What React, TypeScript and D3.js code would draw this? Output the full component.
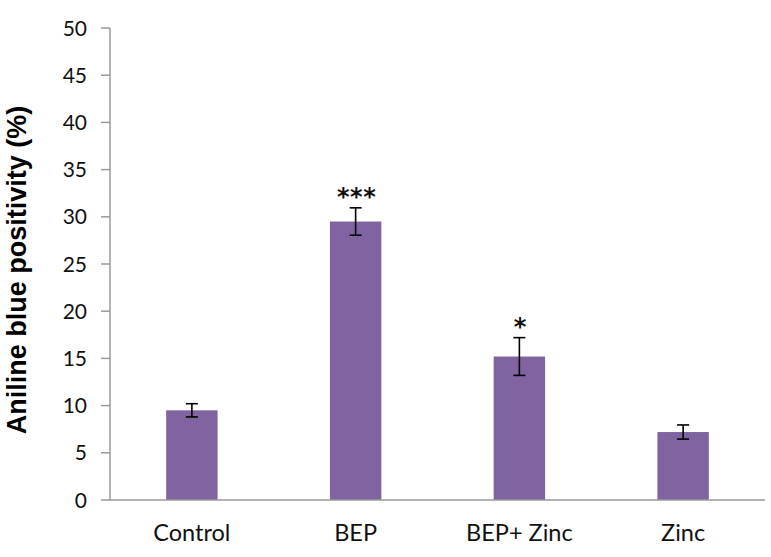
import React from "react";
import * as d3 from "d3";

const categories = ["Control", "BEP", "BEP+ Zinc", "Zinc"];
const values = [9.5, 29.5, 15.2, 7.2];
const errors = [0.7, 1.45, 2.0, 0.75];
const significance = ["", "***", "*", ""];
const yTicks = [0, 5, 10, 15, 20, 25, 30, 35, 40, 45, 50];
const yTitle = "Aniline blue positivity (%)";

export default function App() {
  const width = 771;
  const height = 557;
  const x0 = 110;
  const x1 = 765;
  const yScale = d3.scaleLinear().domain([0, 50]).range([500, 28]);
  const xScale = d3
    .scaleBand<string>()
    .domain(categories)
    .range([x0, x1])
    .paddingInner(0.686)
    .paddingOuter(0.343);
  const font = "Lato, 'Open Sans', sans-serif";
  const axisColor = "#9a9a9a";
  return (
    <svg
      width={width}
      height={height}
      style={{ position: "absolute", left: 0, top: 0, background: "#fff" }}
      fontFamily={font}
    >
      {/* y axis */}
      <line x1={x0} x2={x0} y1={yScale(50)} y2={yScale(0)} stroke={axisColor} strokeWidth={1.5} />
      {yTicks.map((t) => (
        <g key={t}>
          <line x1={x0 - 9} x2={x0} y1={yScale(t)} y2={yScale(t)} stroke={axisColor} strokeWidth={1.5} />
          <text x={87} y={yScale(t)} dy="0.36em" textAnchor="end" fontSize={21} fill="#111">
            {t}
          </text>
        </g>
      ))}
      {/* bars */}
      {categories.map((c, i) => {
        const bx = xScale(c)!;
        const bw = xScale.bandwidth();
        const cx = bx + bw / 2;
        const top = yScale(values[i] + errors[i]);
        const bot = yScale(values[i] - errors[i]);
        return (
          <g key={c}>
            <rect x={bx} y={yScale(values[i])} width={bw} height={yScale(0) - yScale(values[i])} fill="#8064A2" />
            <line x1={cx} x2={cx} y1={top} y2={bot} stroke="#000" strokeWidth={1.6} />
            <line x1={cx - 6} x2={cx + 6} y1={top} y2={top} stroke="#000" strokeWidth={1.6} />
            <line x1={cx - 6} x2={cx + 6} y1={bot} y2={bot} stroke="#000" strokeWidth={1.6} />
            {significance[i] && (
              <text
                x={cx + 1}
                y={top - 3}
                textAnchor="middle"
                fontSize={24}
                fontWeight="bold"
                fill="#111"
                fontFamily="'DejaVu Sans', sans-serif"
                letterSpacing={0.5}
              >
                {significance[i]}
              </text>
            )}
            <text x={cx} y={541} textAnchor="middle" fontSize={23.5} fill="#111">
              {c}
            </text>
          </g>
        );
      })}
      {/* x axis baseline */}
      <line x1={x0} x2={x1} y1={yScale(0)} y2={yScale(0)} stroke={axisColor} strokeWidth={1.5} />
      {/* y title */}
      <text
        transform={`translate(26, 270) rotate(-90)`}
        textAnchor="middle"
        fontSize={27}
        fontWeight="bold"
        fill="#000"
        fontFamily="'Liberation Sans', Arial, sans-serif"
      >
        {yTitle}
      </text>
    </svg>
  );
}
